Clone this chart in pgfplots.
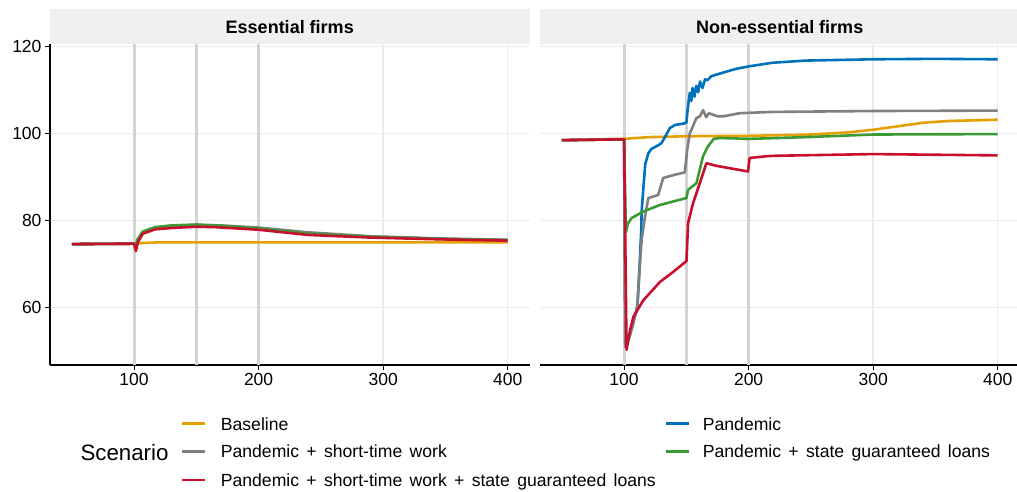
\documentclass[border=0pt]{standalone}
\usepackage{fontspec}
\setmainfont{Liberation Sans}
\newfontfamily\legfont[WordSpace=1.5]{Liberation Sans}
\usepackage{pgfplots}
\pgfplotsset{compat=1.18}

\definecolor{cOrange}{HTML}{E69F00}
\definecolor{cBlue}{HTML}{0072BB}
\definecolor{cGray}{HTML}{808080}
\definecolor{cRed}{HTML}{C8102E}
\definecolor{cGreen}{HTML}{3C9A34}
\definecolor{gridgray}{HTML}{EBEBEB}
\definecolor{vlinegray}{HTML}{D3D3D3}
\definecolor{stripgray}{HTML}{F0F0F0}

\pgfplotsset{
  panel/.style={
    scale only axis, width=479.5pt, height=320.5pt,
    xmin=32.5, xmax=417.5, ymin=46.8, ymax=120.5,
    xtick={100,200,300,400}, ytick={60,80,100,120},
    axis lines*=left, axis line style={black, line width=1.1pt},
    tick style={black, line width=1.1pt}, major tick length=5pt, tick align=outside,
    grid=major, major grid style={draw=gridgray, line width=1.4pt},
    ticklabel style={font=\fontsize{17.5}{17.5}\selectfont, text=black},
    /pgf/number format/assume math mode=true,
    every axis plot/.append style={line width=2.6pt, line join=round},
  },
  vline/.style={vlinegray, line width=3pt, forget plot},
}

\begin{document}
\begin{tikzpicture}[x=1pt,y=1pt]
\useasboundingbox (0pt,0pt) rectangle (1017pt,-492pt);

% facet strips
\fill[stripgray] (50pt,-9pt) rectangle (529.5pt,-44.5pt);
\fill[stripgray] (540pt,-9pt) rectangle (1019.5pt,-44.5pt);
\node[font=\bfseries\fontsize{18}{18}\selectfont] at (289.75pt,-27pt) {Essential firms};
\node[font=\bfseries\fontsize{18}{18}\selectfont] at (779.75pt,-27pt) {Non-essential firms};

% essential firms
\begin{axis}[panel, at={(50pt,-365pt)}, anchor=south west]
  \addplot[vline] coordinates {(100,46.8) (100,120.5)};
  \addplot[vline] coordinates {(150,46.8) (150,120.5)};
  \addplot[vline] coordinates {(200,46.8) (200,120.5)};
  % baseline
  \addplot[cOrange] coordinates {(50,74.6) (100,74.7) (110,74.9) (120,75.0) (200,75.0) (300,75.0) (400,75.0)};
  % pandemic
  \addplot[cBlue] coordinates {(50,74.6) (100,74.7) (101,73.8) (103,75.5) (107,77.2) (117,78.3) (130,78.7) (150,79.0) (165,78.8) (200,78.2) (240,77.0) (290,76.3) (345,75.8) (400,75.5)};
  % pandemic + short-time work
  \addplot[cGray] coordinates {(50,74.6) (100,74.7) (101,73.6) (103,75.6) (107,77.3) (117,78.4) (130,78.8) (150,79.0) (170,78.9) (200,78.4) (240,77.3) (290,76.4) (345,75.9) (400,75.6)};
  % pandemic + state guaranteed loans
  \addplot[cGreen] coordinates {(50,74.6) (100,74.7) (101,74.0) (103,75.8) (107,77.5) (117,78.5) (130,78.9) (150,79.1) (165,78.9) (200,78.2) (240,77.0) (290,76.3) (345,75.8) (400,75.5)};
  % pandemic + short-time work + loans
  \addplot[cRed] coordinates {(50,74.6) (100,74.7) (101.5,73.0) (103,75.0) (107,77.0) (117,78.0) (130,78.3) (150,78.6) (165,78.5) (200,77.9) (240,76.7) (290,76.1) (345,75.7) (400,75.4)};
\end{axis}

% non-essential firms
\begin{axis}[panel, at={(540pt,-365pt)}, anchor=south west,
  y axis line style={draw=none}, ytick style={draw=none}, yticklabels={}]
  \addplot[vline] coordinates {(100,46.8) (100,120.5)};
  \addplot[vline] coordinates {(150,46.8) (150,120.5)};
  \addplot[vline] coordinates {(200,46.8) (200,120.5)};
  \addplot[cOrange] coordinates {(50,98.5) (100,98.8) (120,99.2) (150,99.4) (200,99.5) (250,99.8) (280,100.3) (300,100.9) (320,101.7) (340,102.5) (360,102.9) (400,103.2)};
  \addplot[cBlue] coordinates {(50,98.5) (100,98.7) (101,51) (104,53) (107,56) (110.7,60.5) (112.5,70) (113.8,78) (114.1,82.1) (115.5,87.5) (117,93) (119.5,95.5) (122,96.5) (126,97.1) (130,97.8) (133,99.3) (136.8,101.3) (141,102.0) (147.4,102.3) (150,102.5) (151,105.5) (152.8,109.4) (154,107.5) (155,110.5) (156.5,108.5) (158,111) (159.5,109.5) (161,112) (163,110.5) (165,112.5) (167,112.3) (170,113.2) (179,114.0) (190,114.9) (200.8,115.5) (219,116.3) (246,116.8) (300,117.1) (350,117.2) (400,117.1)};
  \addplot[cGray] coordinates {(50,98.5) (100,98.7) (101,51) (104,53) (107,56) (110.7,60.2) (112.8,70.2) (114.1,75.5) (116.8,80.9) (119.5,85.2) (127.4,85.9) (131.4,89.8) (140,90.5) (148.8,91.1) (150.7,96.3) (152.8,100.2) (154.1,100.9) (158.1,103.6) (161,104) (163.4,105.4) (166,103.8) (168,104.7) (171,104.4) (175,104.0) (180,104.0) (192.8,104.7) (219.4,105.0) (300,105.2) (400,105.3)};
  \addplot[cGreen] coordinates {(50,98.5) (100,98.7) (101.5,77.3) (103,79.3) (106.1,80.6) (115.5,82.1) (128.8,83.6) (150.1,85.2) (151.4,87.1) (158.1,88.6) (163.4,94.8) (167.4,97.1) (172,98.8) (176.8,99.0) (200.8,98.8) (246,99.2) (300,99.8) (400,99.9)};
  \addplot[cRed] coordinates {(50,98.5) (100,98.7) (102,50.3) (104.8,54.8) (107.5,57.9) (115.5,61.7) (128.8,65.9) (139.4,68.2) (150.1,70.7) (151.4,79.4) (155.4,84.0) (160.8,88.6) (166.1,93.2) (174.1,92.6) (199.5,91.3) (200.8,94.4) (214.2,94.8) (219.4,94.9) (300,95.3) (400,95.0)};
\end{axis}

% legend
\node[anchor=base west, inner sep=0pt, font=\fontsize{22.3}{22.3}\selectfont] at (80.3pt,-460pt) {Scenario};
\begin{scope}[every node/.style={anchor=base west, inner sep=0pt, font=\legfont\fontsize{17.6}{17.6}\selectfont}]
  \draw[cOrange, line width=2.6pt] (182.3pt,-423.5pt) -- (205pt,-423.5pt);
  \node at (220.7pt,-430.7pt) {Baseline};
  \draw[cGray, line width=2.6pt] (182.3pt,-451.7pt) -- (205pt,-451.7pt);
  \node at (220.7pt,-457.9pt) {Pandemic + short-time work};
  \draw[cRed, line width=2.6pt] (182.3pt,-479.8pt) -- (205pt,-479.8pt);
  \node at (220.7pt,-486pt) {Pandemic + short-time work + state guaranteed loans};
  \draw[cBlue, line width=2.6pt] (666pt,-423.5pt) -- (689pt,-423.5pt);
  \node at (702.7pt,-430.7pt) {Pandemic};
  \draw[cGreen, line width=2.6pt] (666pt,-451.7pt) -- (689pt,-451.7pt);
  \node at (702.7pt,-457.9pt) {Pandemic + state guaranteed loans};
\end{scope}
\end{tikzpicture}
\end{document}
